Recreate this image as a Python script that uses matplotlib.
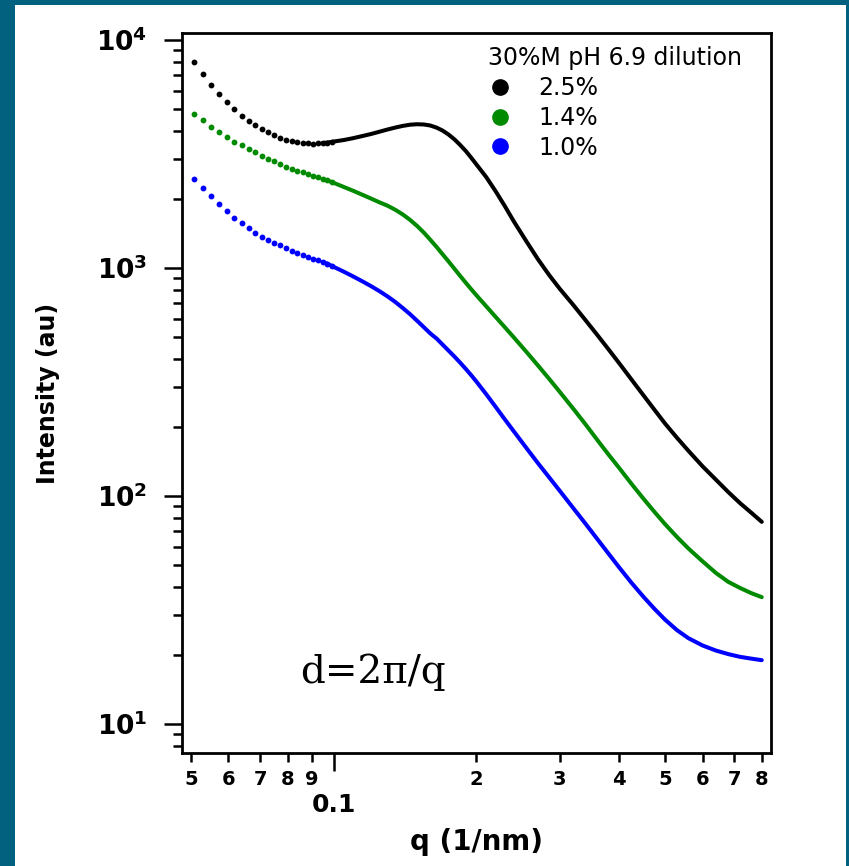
import matplotlib
matplotlib.use('Agg')
import matplotlib.pyplot as plt
import numpy as np
from matplotlib.lines import Line2D
from matplotlib.patches import Rectangle
from matplotlib.ticker import LogLocator, FuncFormatter, NullFormatter

# q values (1/nm) of the separate low-q points, then the dense part
q_dots = [0.0508, 0.0530, 0.0552, 0.0574, 0.0596, 0.0618, 0.0640, 0.0662, 0.0684,
          0.0706, 0.0728, 0.0750, 0.0772, 0.0794, 0.0816, 0.0838, 0.0860, 0.0882,
          0.0904, 0.0926, 0.0948, 0.0970, 0.0992]
q_line = [0.105, 0.110, 0.115, 0.120, 0.125, 0.130, 0.135, 0.140, 0.145, 0.150,
          0.155, 0.160, 0.165, 0.170, 0.175, 0.180, 0.185, 0.190, 0.195, 0.200,
          0.210, 0.220, 0.230, 0.240, 0.255, 0.270, 0.285, 0.300, 0.320, 0.340,
          0.360, 0.380, 0.400, 0.425, 0.450, 0.475, 0.500, 0.530, 0.560, 0.600,
          0.640, 0.680, 0.720, 0.760, 0.800]

# intensities
black_dots = [7980, 7090, 6350, 5800, 5350, 4970, 4660, 4430, 4230, 4070, 3950, 3820,
              3730, 3650, 3600, 3560, 3535, 3520, 3515, 3520, 3530, 3550, 3575]
green_dots = [4720, 4460, 4170, 3960, 3770, 3580, 3460, 3320, 3210, 3100, 3020, 2940,
              2860, 2780, 2720, 2670, 2625, 2590, 2540, 2495, 2450, 2420, 2380]
blue_dots = [2460, 2250, 2060, 1910, 1780, 1660, 1570, 1490, 1430, 1370, 1330, 1290,
             1260, 1220, 1190, 1165, 1140, 1120, 1100, 1080, 1060, 1045, 1020]

black_line = [3640, 3710, 3790, 3870, 3960, 4050, 4130, 4200, 4250, 4270,
              4260, 4215, 4125, 4000, 3840, 3660, 3460, 3260, 3050, 2850,
              2500, 2160, 1860, 1600, 1310, 1090, 930, 810, 690, 590,
              508, 440, 383, 324, 277, 239, 208, 180, 158, 135,
              118, 104, 93, 84.5, 77]
green_line = [2268, 2180, 2095, 2015, 1940, 1875, 1799, 1716, 1625, 1529,
              1430, 1329, 1235, 1145, 1065, 990, 922, 862, 808, 760,
              678, 608, 548, 496, 429, 373, 326, 286, 242, 206,
              176, 152, 133, 113, 97.5, 85.2, 75.3, 66.1, 58.9, 51.7,
              46, 42, 39.5, 37.5, 36]
blue_line = [964, 918, 874, 832, 791, 750, 709, 667, 627, 587,
             550, 516, 490, 460, 433, 408, 384, 361, 339, 318,
             279, 245, 216, 192, 162.5, 139, 120.6, 105.3, 88.7, 75.5,
             64.7, 55.9, 48.7, 41.6, 36.2, 32.0, 28.7, 25.8, 23.8, 22.1,
             21.0, 20.25, 19.7, 19.35, 19.05]

labels = ['2.5%', '1.4%', '1.0%']
colors = ['#000000', '#008a00', '#0000ff']

plt.rcParams['font.family'] = 'DejaVu Sans'
plt.rcParams['font.weight'] = 'bold'

fig = plt.figure(figsize=(8.49, 8.66), dpi=100, facecolor='#02617f')
fig.add_artist(Rectangle((15 / 849, 0), 831 / 849, 861 / 866, transform=fig.transFigure,
                         facecolor='white', edgecolor='none', zorder=-1))
ax = fig.add_axes([182 / 849, 1 - 753 / 866, 589 / 849, 720 / 866])

series = [(black_dots, black_line), (green_dots, green_line), (blue_dots, blue_line)]
for (dots, line), c in zip(series, colors):
    ax.plot(q_dots, dots, 'o', ms=4.2, mew=0, color=c)
    ax.plot(q_dots[-3:] + q_line, dots[-3:] + line, '-', lw=2.9, color=c,
            solid_capstyle='round', solid_joinstyle='round')

ax.set_xscale('log')
ax.set_yscale('log')
ax.set_xlim(0.0479, 0.8367)
ax.set_ylim(7.46, 10730)

ax.xaxis.set_major_locator(LogLocator(base=10, numticks=10))
ax.xaxis.set_minor_locator(LogLocator(base=10, subs=np.arange(2, 10), numticks=20))
ax.xaxis.set_major_formatter(FuncFormatter(lambda v, p: f'{v:g}'))
ax.xaxis.set_minor_formatter(
    FuncFormatter(lambda v, p: f'{v / 10 ** np.floor(np.log10(v) + 1e-9):.0f}'))
ax.yaxis.set_major_locator(LogLocator(base=10, numticks=10))
ax.yaxis.set_minor_locator(LogLocator(base=10, subs=np.arange(2, 10), numticks=20))
ax.yaxis.set_major_formatter(
    FuncFormatter(lambda v, p: r'$\mathbf{10^{%d}}$' % round(np.log10(v))))
ax.yaxis.set_minor_formatter(NullFormatter())

ax.tick_params(which='major', length=13, width=1.8, direction='out')
ax.tick_params(which='minor', length=6.5, width=1.8, direction='out')
ax.tick_params(axis='x', which='minor', labelsize=14, pad=6)
ax.tick_params(axis='x', which='major', labelsize=18, pad=16)
ax.tick_params(axis='y', which='major', labelsize=19, pad=12)
for s in ax.spines.values():
    s.set_linewidth(2)

ax.set_xlabel('q (1/nm)', fontsize=20, fontweight='bold')
ax.xaxis.set_label_coords(0.5, -0.104)
ax.set_ylabel('Intensity (au)', fontsize=17, fontweight='bold')
ax.yaxis.set_label_coords(-0.207, 0.5)

ax.text(0.324, 0.097, 'd=2π/q', transform=ax.transAxes, family='DejaVu Serif',
        fontsize=28, fontweight='normal', ha='center', va='baseline')

handles = [Line2D([], [], ls='none', marker='o', ms=11, color=c) for c in colors]
ax.legend(handles, labels, title='30%M pH 6.9 dilution', loc='upper left',
          bbox_to_anchor=(0.5195, 0.982), frameon=False,
          prop={'size': 17, 'weight': 'normal'},
          title_fontproperties={'size': 17, 'weight': 'normal'}, alignment='left',
          handlelength=1.0, handletextpad=1.15, labelspacing=0.25,
          borderpad=0, borderaxespad=0)

fig.savefig('out.png', dpi=100, facecolor=fig.get_facecolor())
